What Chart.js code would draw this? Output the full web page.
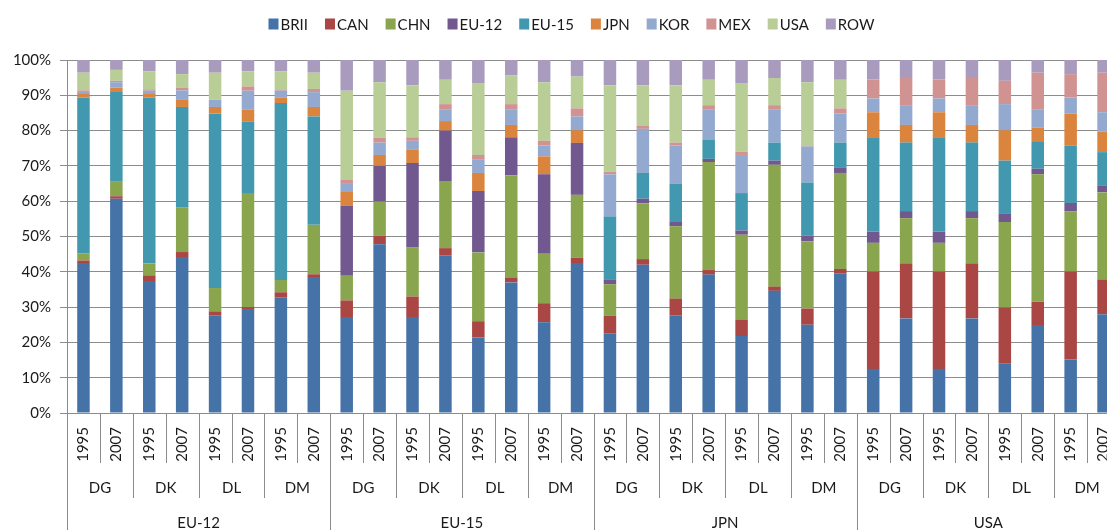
<!DOCTYPE html>
<html>
<head>
<meta charset="utf-8">
<script src="https://cdn.jsdelivr.net/npm/chart.js@4/dist/chart.umd.min.js"></script>
<style>
  html, body { margin: 0; padding: 0; overflow: hidden; background: #fff; }
  #wrap { width: 1125px; height: 530px; }
</style>
</head>
<body>
<div id="wrap"><canvas id="c" width="1125" height="530"></canvas></div>
<script>
// ---- data ----
const regions = ["EU-12", "EU-15", "JPN", "USA"];
const industries = ["DG", "DK", "DL", "DM"];
const years = ["1995", "2007"];
const seriesNames = ["BRII", "CAN", "CHN", "EU-12", "EU-15", "JPN", "KOR", "MEX", "USA", "ROW"];
const seriesColors = ["#4572A7", "#AA4643", "#89A54E", "#71588F", "#4198AF", "#DB843D", "#93A9CF", "#D19392", "#B9CD96", "#A99BBD"];
const yTicks = [0, 10, 20, 30, 40, 50, 60, 70, 80, 90, 100];

const BRII = [42.5,60.7,37.4,44.2,27.6,29.2,32.7,38.5, 27.2,47.8,27.2,44.7,21.4,37.0,25.7,42.5, 22.5,42.0,27.6,39.2,21.8,34.6,25.0,39.6, 12.5,26.8,12.5,26.8,14.1,24.9,15.2,28.0];
const CAN  = [0.7,0.7,1.6,1.4,1.2,0.8,1.5,0.8, 4.7,2.4,5.8,2.0,4.6,1.4,5.4,1.5, 5.1,1.6,4.8,1.3,4.7,1.2,4.6,1.2, 27.6,15.6,27.6,15.6,15.8,6.6,24.9,9.7];
const CHN  = [2.0,4.3,3.4,12.7,6.6,32.3,3.5,14.0, 7.0,9.7,14.0,19.0,19.5,28.9,14.0,17.8, 8.9,15.8,20.5,30.6,24.0,34.5,19.0,27.2, 8.1,12.8,8.1,12.8,24.2,36.1,17.0,24.8];
const EU12 = [0,0,0,0,0,0,0,0, 19.8,10.1,23.8,14.3,17.4,10.8,22.5,14.7, 1.2,1.3,1.2,0.9,1.2,1.2,1.6,1.6, 3.2,2.0,3.2,2.0,2.3,1.6,2.4,2.0];
const EU15 = [44.2,25.2,47.0,28.4,49.4,20.2,50.1,30.7, 0,0,0,0,0,0,0,0, 18.0,7.3,10.8,5.5,10.6,5.1,15.1,7.0, 26.7,19.4,26.7,19.4,15.1,7.8,16.3,9.4];
const JPN  = [1.2,1.3,1.2,2.0,1.9,3.4,1.6,2.7, 3.9,3.1,3.9,2.7,5.1,3.5,5.1,3.6, 0,0,0,0,0,0,0,0, 7.1,5.0,7.1,5.0,8.6,3.8,9.0,5.8];
const KOR  = [0.6,1.5,0.7,2.7,2.0,5.4,1.9,4.2, 2.3,3.5,2.4,3.2,3.9,4.3,3.1,3.9, 11.9,12.5,10.9,8.4,10.8,9.3,10.2,8.2, 3.9,5.6,3.9,5.6,7.4,5.1,4.6,5.5];
const MEX  = [0.2,0.4,0.4,0.8,0.1,1.2,0.2,0.9, 1.2,1.4,1.0,1.6,1.2,1.6,1.3,2.3, 0.8,0.8,0.8,1.3,0.9,1.3,0.3,1.5, 5.4,7.7,5.4,7.7,6.6,10.5,6.6,11.2];
const USA  = [5.0,3.1,5.1,3.8,7.6,4.3,5.3,4.6, 25.2,15.7,14.7,6.9,20.2,8.2,16.6,9.0, 24.4,11.5,16.2,7.2,19.3,7.7,17.9,8.1, 0,0,0,0,0,0,0,0];
const ROW  = [3.6,2.8,3.2,4.0,3.6,3.2,3.2,3.6, 8.7,6.3,7.2,5.6,6.7,4.3,6.3,4.7, 7.2,7.2,7.2,5.6,6.7,5.1,6.3,5.6, 5.5,5.1,5.5,5.1,5.9,3.6,4.0,3.6];

const seriesData = [BRII, CAN, CHN, EU12, EU15, JPN, KOR, MEX, USA, ROW];

// categories built from the label arrays
const labels = [];
const catInd = [];
const catReg = [];
regions.forEach(r => industries.forEach(ind => years.forEach(y => {
  labels.push(y); catInd.push(ind); catReg.push(r);
})));

const FONT = "Lato, 'Open Sans', sans-serif";
const TEXT = "#1a1a1a";
const GRID = "#8c8c8c";

const datasets = seriesNames.map((n, i) => ({
  label: n,
  data: seriesData[i],
  backgroundColor: seriesColors[i],
  borderWidth: 0,
  categoryPercentage: 1.0,
  barPercentage: 0.38
}));

const legendPlugin = {
  id: 'customLegend',
  afterDraw(chart) {
    const ctx = chart.ctx;
    ctx.save();
    ctx.font = "15px " + FONT;
    ctx.textBaseline = 'middle';
    ctx.textAlign = 'left';
    const box = 10, gap = 2, itemGap = 17;
    const widths = seriesNames.map(n => box + gap + ctx.measureText(n).width);
    const total = widths.reduce((a, b) => a + b, 0) + itemGap * (seriesNames.length - 1);
    let x = 571.5 - total / 2;
    const yc = 24;
    seriesNames.forEach((n, i) => {
      ctx.fillStyle = seriesColors[i];
      ctx.fillRect(x, yc - 5.5, box, 11);
      ctx.fillStyle = TEXT;
      ctx.fillText(n, x + box + gap, yc + 1);
      x += widths[i] + itemGap;
    });
    ctx.restore();
  }
};

const axisGroupsPlugin = {
  id: 'axisGroups',
  afterDraw(chart) {
    const ctx = chart.ctx;
    const xs = chart.scales.x;
    const n = labels.length;
    const half = (xs.getPixelForValue(1) - xs.getPixelForValue(0)) / 2;
    const base = chart.chartArea.bottom;
    ctx.save();
    ctx.strokeStyle = GRID;
    ctx.lineWidth = 1;
    for (let i = 0; i <= n; i++) {
      const px = Math.round(i < n ? xs.getPixelForValue(i) - half : xs.getPixelForValue(n - 1) + half) + 0.5;
      let yEnd = 463;
      if (i % 2 === 0) yEnd = 498;
      if (i % 8 === 0) yEnd = 530;
      ctx.beginPath();
      ctx.moveTo(px, base);
      ctx.lineTo(px, yEnd);
      ctx.stroke();
    }
    ctx.fillStyle = TEXT;
    ctx.font = "15px " + FONT;
    ctx.textAlign = 'center';
    ctx.textBaseline = 'middle';
    for (let i = 0; i < n; i += 2) {
      const cx = (xs.getPixelForValue(i) + xs.getPixelForValue(i + 1)) / 2;
      ctx.fillText(catInd[i], cx, 488);
    }
    for (let i = 0; i < n; i += 8) {
      const cx = (xs.getPixelForValue(i) + xs.getPixelForValue(i + 7)) / 2;
      ctx.fillText(catReg[i], cx, 523);
    }
    ctx.restore();
  }
};

new Chart(document.getElementById('c'), {
  type: 'bar',
  data: { labels: labels, datasets: datasets },
  options: {
    responsive: false,
    animation: false,
    devicePixelRatio: 1,
    layout: { padding: { left: 0, right: 5, top: 60, bottom: 0 } },
    plugins: {
      legend: { display: false },
      tooltip: { enabled: false }
    },
    scales: {
      x: {
        stacked: true,
        grid: { display: false, drawTicks: false },
        border: { display: true, color: GRID },
        ticks: {
          autoSkip: false,
          maxRotation: 90,
          minRotation: 90,
          padding: 14,
          color: TEXT,
          font: { family: FONT, size: 15 }
        },
        afterFit(scale) {
          scale.height = 117;
          scale.paddingLeft = 0;
          scale.paddingRight = 0;
        }
      },
      y: {
        stacked: true,
        min: 0,
        max: 100,
        afterBuildTicks(scale) { scale.ticks = yTicks.map(v => ({ value: v })); },
        grid: { color: GRID, tickLength: 7, drawTicks: true },
        border: { display: true, color: GRID },
        ticks: {
          padding: 9,
          color: TEXT,
          font: { family: FONT, size: 15 },
          callback: v => v + '%'
        },
        afterFit(scale) {
          scale.width = 67;
          scale.paddingTop = 0;
          scale.paddingBottom = 0;
        }
      }
    }
  },
  plugins: [legendPlugin, axisGroupsPlugin]
});
</script>
</body>
</html>
